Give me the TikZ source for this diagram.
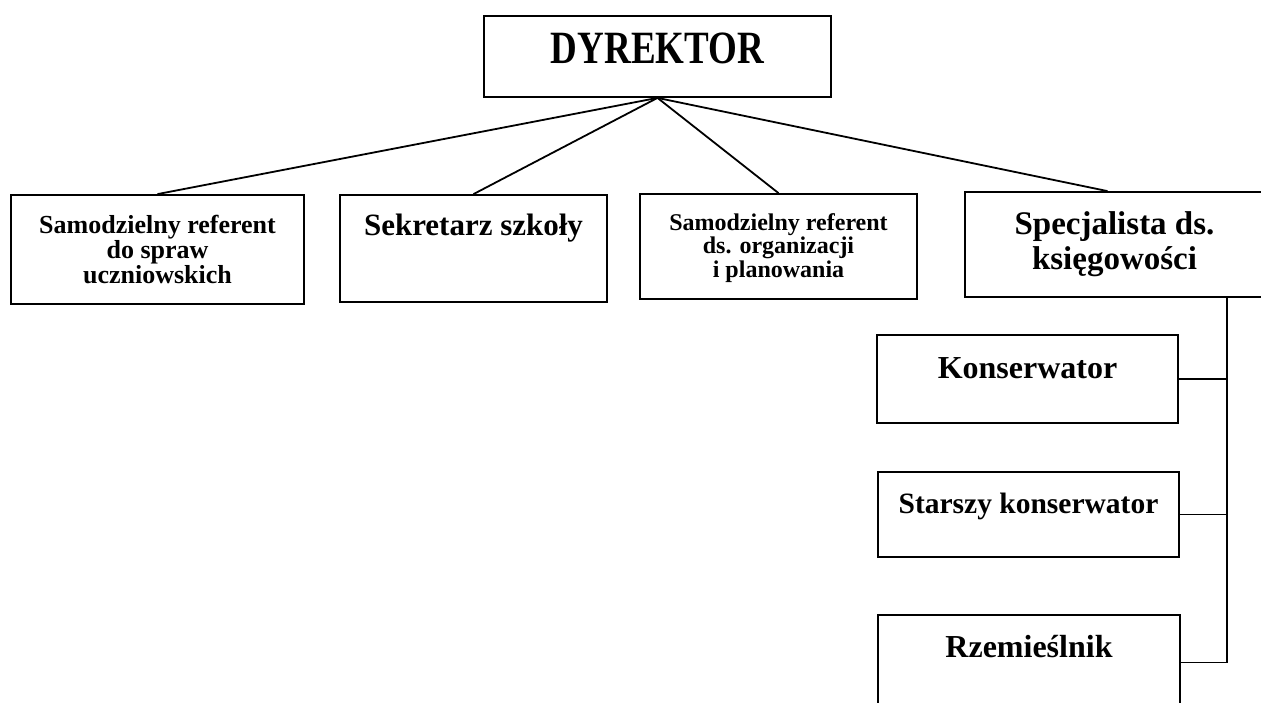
\documentclass[tikz,border=0pt]{standalone}
\usepackage{fontspec}
\setmainfont{Liberation Serif}
\usepackage{graphicx}

\begin{document}
\begin{tikzpicture}[x=1pt,y=-1pt,line width=1.8pt,
  box/.style={draw,inner sep=0pt,align=center}]
\useasboundingbox (0,0) rectangle (1261,702);
% top
\node[box,minimum width=347pt,text height=47pt,text depth=34pt,font=\bfseries\fontsize{37}{40}\selectfont] (dyr) at (657.5,56.5) {\scalebox{1}[1.25]{DYREKTOR}};
% first level
\node[box,minimum width=293pt,minimum height=109pt,font=\bfseries\fontsize{26}{25}\selectfont] (sam1) at (157.5,249.5) {Samodzielny referent\\do spraw\\uczniowskich};
\node[box,minimum width=267pt,text height=40pt,text depth=67pt,font=\bfseries\fontsize{31}{36}\selectfont] (sekr) at (473.5,248.5) {Sekretarz szkoły};
\node[box,minimum width=277pt,text height=83pt,text depth=22pt,font=\bfseries\fontsize{24}{23.5}\selectfont] (sam2) at (778.5,246.5) {Samodzielny referent\\ds. organizacji\\i planowania};
\node[box,minimum width=299pt,minimum height=105pt,font=\bfseries\fontsize{33}{35}\selectfont] (spec) at (1114.5,244.5) {Specjalista ds.\\księgowości};
\draw (dyr.south) -- (sam1.north);
\draw (dyr.south) -- (sekr.north);
\draw (dyr.south) -- (sam2.north);
\draw (dyr.south) -- ([xshift=-7pt]spec.north);
% under the accountant
\node[box,minimum width=301pt,text height=43pt,text depth=45pt,font=\bfseries\fontsize{32}{36}\selectfont] (kons) at (1027.5,379) {Konserwator};
\node[box,minimum width=301pt,text height=41pt,text depth=44pt,font=\bfseries\fontsize{29.5}{34}\selectfont] (star) at (1028.5,514.5) {Starszy konserwator};
\node[box,minimum width=302pt,text height=42pt,text depth=53pt,font=\bfseries\fontsize{32}{36}\selectfont] (rzem) at (1029,662.5) {Rzemieślnik};
\coordinate (pion) at (1227,297);
\draw (pion) |- (rzem.east);
\draw (kons.east) -- (kons.east -| pion);
\draw (star.east) -- (star.east -| pion);
\end{tikzpicture}
\end{document}
